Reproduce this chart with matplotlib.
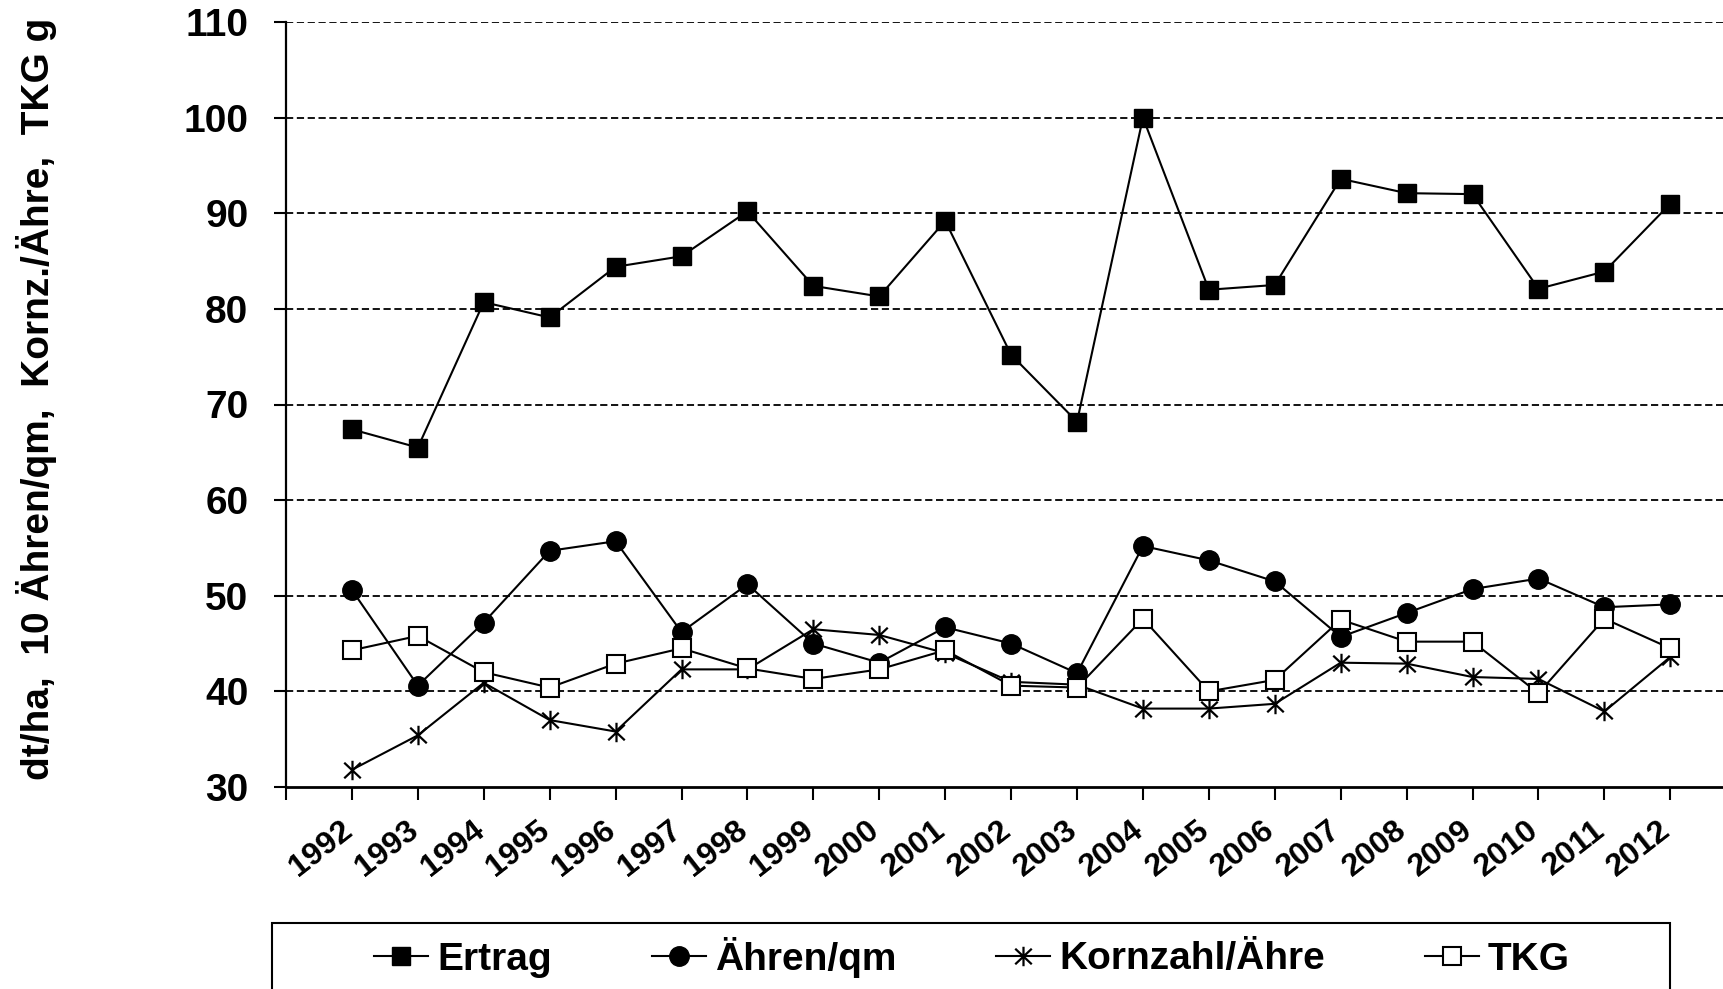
import matplotlib
matplotlib.use("Agg")
import matplotlib.pyplot as plt
import matplotlib.transforms as mtransforms
from matplotlib.path import Path
from matplotlib.patches import Rectangle

# data
years = list(range(1992, 2013))
ertrag = [67.4, 65.5, 80.7, 79.1, 84.4, 85.5, 90.2, 82.4, 81.3, 89.2, 75.2,
          68.2, 100.0, 82.0, 82.5, 93.6, 92.1, 92.0, 82.1, 83.9, 91.0]
aehren = [50.6, 40.6, 47.2, 54.7, 55.7, 46.2, 51.2, 45.0, 43.0, 46.7, 45.0,
          41.9, 55.2, 53.7, 51.5, 45.7, 48.2, 50.7, 51.8, 48.8, 49.1]
kornzahl = [31.8, 35.4, 40.9, 37.0, 35.8, 42.3, 42.3, 46.5, 45.9, 44.0, 41.0,
            40.7, 38.2, 38.2, 38.7, 43.0, 42.9, 41.5, 41.3, 37.9, 43.6]
tkg = [44.3, 45.8, 42.0, 40.4, 42.9, 44.5, 42.4, 41.3, 42.3, 44.3, 40.6,
       40.4, 47.6, 40.0, 41.2, 47.5, 45.2, 45.2, 39.8, 47.6, 44.5]
labels = ['Ertrag', 'Ähren/qm', 'Kornzahl/Ähre', 'TKG']
y_ticks = [30, 40, 50, 60, 70, 80, 90, 100, 110]

plt.rcParams['font.family'] = ['Liberation Sans', 'DejaVu Sans']
plt.rcParams['font.weight'] = 'bold'

W, H = 1724, 989
fig = plt.figure(figsize=(W / 100, H / 100), dpi=100)
ax = fig.add_axes([286 / W, 1 - 787 / H, 1 - 286 / W, (787 - 22) / H])

# asterisk marker like the office one
star = Path([(0, -1), (0, 1), (-0.85, -0.8), (0.85, 0.8), (-0.85, 0.8), (0.85, -0.8)],
            [Path.MOVETO, Path.LINETO, Path.MOVETO, Path.LINETO, Path.MOVETO, Path.LINETO])

l1, = ax.plot(years, ertrag, color='black', lw=1.5, marker='s', ms=13,
              mfc='black', mec='black', zorder=5)
l2, = ax.plot(years, aehren, color='black', lw=1.5, marker='o', ms=14,
              mfc='black', mec='black', zorder=5)
l3, = ax.plot(years, kornzahl, color='black', lw=1.5, marker=star, ms=14,
              mew=1.6, mec='black', zorder=5)
l4, = ax.plot(years, tkg, color='black', lw=1.5, marker='s', ms=13,
              mfc='white', mec='black', mew=1.5, zorder=5)

ax.set_ylim(30, 110)
ax.set_xlim(1991, 1991 + (W - 286) / 65.92)
ax.set_yticks(y_ticks)
for v in y_ticks[1:]:
    ax.axhline(v, color='black', lw=1.3, ls=(0, (4, 2)), zorder=1)

ax.set_xticks(years)
ax.set_xticks([1991], minor=True)
ax.set_xticklabels([str(y) for y in years], rotation=38, ha='right', fontsize=23)
ax.tick_params(axis='y', labelsize=28, length=9, width=1.5, pad=18)
ax.tick_params(axis='x', which='both', length=9, width=1.5, pad=11)
offset = mtransforms.ScaledTranslation(0.06, 0, fig.dpi_scale_trans)
for lab in ax.get_xticklabels():
    lab.set_transform(lab.get_transform() + offset)

for s in ['top', 'right']:
    ax.spines[s].set_visible(False)
ax.spines['left'].set_linewidth(1.6)
ax.spines['bottom'].set_linewidth(2.0)

fig.text(37 / W, 1 - 399 / H, 'dt/ha,  10 Ähren/qm,  Kornz./Ähre,  TKG g',
         rotation=90, ha='center', va='center', fontsize=28)

# legend box runs off the bottom of the picture
fig.patches.append(Rectangle((271.6 / W, -0.05), (1670 - 271.6) / W, 0.05 + 1 - 923 / H,
                             transform=fig.transFigure, fill=False, lw=1.5,
                             edgecolor='black'))
fig.legend([l1, l2, l3, l4], labels, loc='center left',
           bbox_to_anchor=(374 / W, 1 - 957 / H), ncol=4, frameon=False,
           fontsize=28, handlelength=1.4, handletextpad=0.23,
           columnspacing=2.56, borderpad=0, borderaxespad=0)

fig.savefig('out.png', dpi=100)
